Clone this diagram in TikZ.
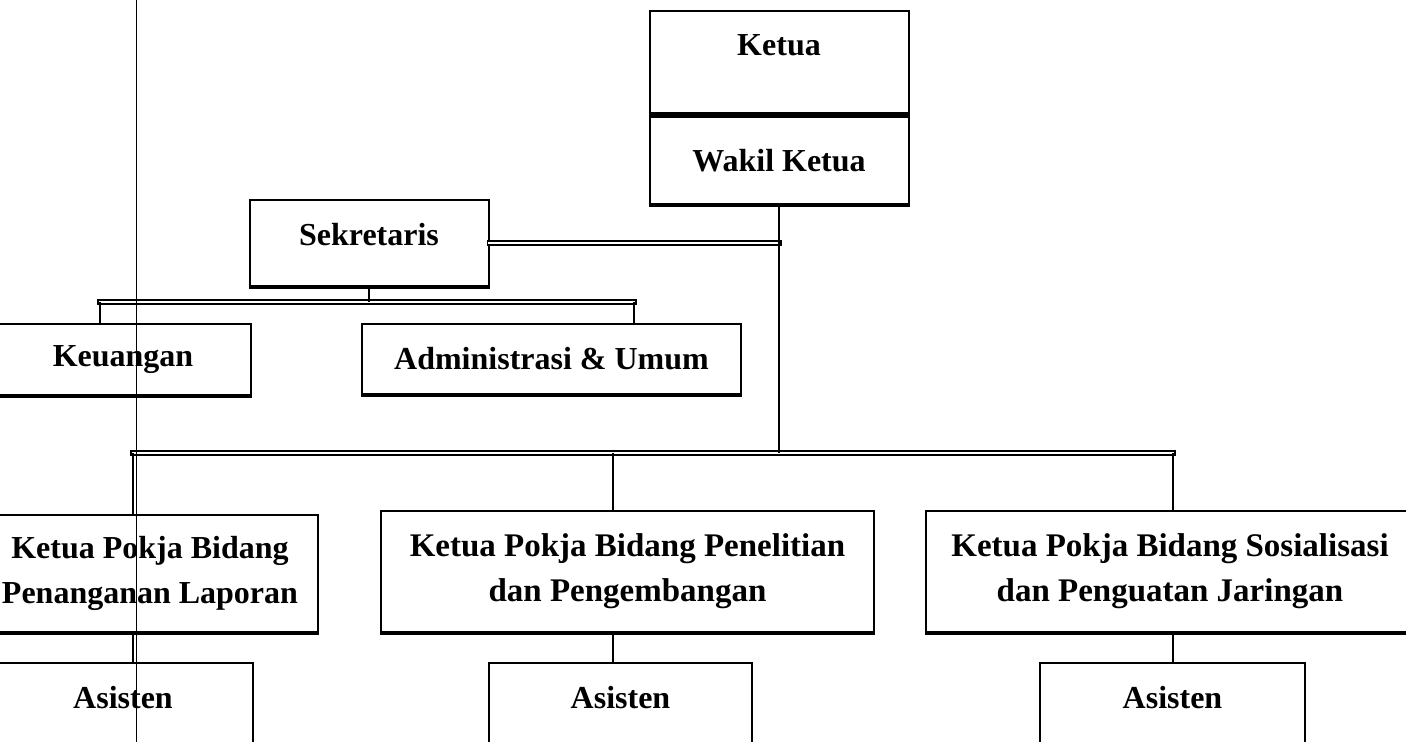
\documentclass[tikz,border=0pt]{standalone}
\usepackage{fontspec}
\setmainfont{Liberation Serif}
\usepackage{tikz}
\usetikzlibrary{positioning}

\begin{document}
\begin{tikzpicture}[x=0.5pt, y=-0.5pt,
  box/.style={draw, rectangle, line width=1pt, inner sep=0pt, align=center,
    font=\bfseries\fontsize{16}{19}\selectfont},
  pokja/.style={box, font=\bfseries\fontsize{#1}{22.5}\selectfont},
  link/.style={line width=1pt},
  bus/.style={double, double distance=1.4pt, line width=0.8pt, line cap=rect}]
  \useasboundingbox (0,0) rectangle (1406,742);
  \clip (0,0) rectangle (1406,742);

  \node (ketua) [box, minimum width=129.5pt, minimum height=51pt, text height=11pt, text depth=17.4pt] at (779,62) {Ketua};
  \node (wakil) [box, minimum width=129.5pt, minimum height=43.5pt] at (779,160.5) {Wakil Ketua};
  \node (sek) [box, minimum width=119.5pt, minimum height=43pt, text height=11pt, text depth=8.4pt] at (369,243) {Sekretaris};
  \node (keu) [box, minimum width=128pt, minimum height=35.5pt] at (123,359.5) {Keuangan};
  \node (admin) [box, minimum width=189.5pt, minimum height=35pt] at (551.5,359) {Administrasi \& Umum};
  \node (pokja1) [pokja=16, minimum width=168pt, minimum height=58.5pt] at (150,573.5) {Ketua Pokja Bidang\\Penanganan Laporan};
  \node (pokja2) [pokja=16.5, minimum width=246.5pt, minimum height=60.5pt] at (627.5,571.5) {Ketua Pokja Bidang Penelitian\\dan Pengembangan};
  \node (pokja3) [pokja=16.5, minimum width=244pt, minimum height=60.5pt] at (1170,571.5) {Ketua Pokja Bidang Sosialisasi\\dan Penguatan Jaringan};
  \node (asisten1) [box, minimum width=130pt, minimum height=56pt, text height=11pt, text depth=22pt] at (123,719) {Asisten};
  \node (asisten2) [box, minimum width=131.5pt, minimum height=56pt, text height=11pt, text depth=22pt] at (620.5,719) {Asisten};
  \node (asisten3) [box, minimum width=132.5pt, minimum height=56pt, text height=11pt, text depth=22pt] at (1172.5,719) {Asisten};

  \foreach \n in {ketua, wakil, sek, keu, admin, pokja1, pokja2, pokja3}
    \draw [line width=2pt] (\n.south west) -- (\n.south east);

  \coordinate (s1) at (100,302);
  \coordinate (s2) at (634,302);
  \coordinate (b1) at (133,453);
  \coordinate (b2) at (613,453);
  \coordinate (b3) at (1173,453);

  \draw [bus] (sek.east) -- (sek.east -| wakil.south);
  \draw [bus] (s1) -- (s2);
  \draw [bus] (b1) -- (b3);

  \draw [link] (wakil.south) -- (wakil.south |- b1);
  \draw [link] (sek.south) -- (sek.south |- s1);
  \draw [link] (s1) -- (keu.north -| s1);
  \draw [link] (s2) -- (admin.north -| s2);
  \draw [link] (b1) -- (pokja1.north -| b1);
  \draw [link] (b2) -- (pokja2.north -| b2);
  \draw [link] (b3) -- (pokja3.north -| b3);
  \draw [link] (pokja1.south -| b1) -- (asisten1.north -| b1);
  \draw [link] (pokja2.south -| b2) -- (asisten2.north -| b2);
  \draw [link] (pokja3.south -| b3) -- (asisten3.north -| b3);

  \draw [line width=0.5pt] (136,0) -- (136,742);
\end{tikzpicture}
\end{document}
